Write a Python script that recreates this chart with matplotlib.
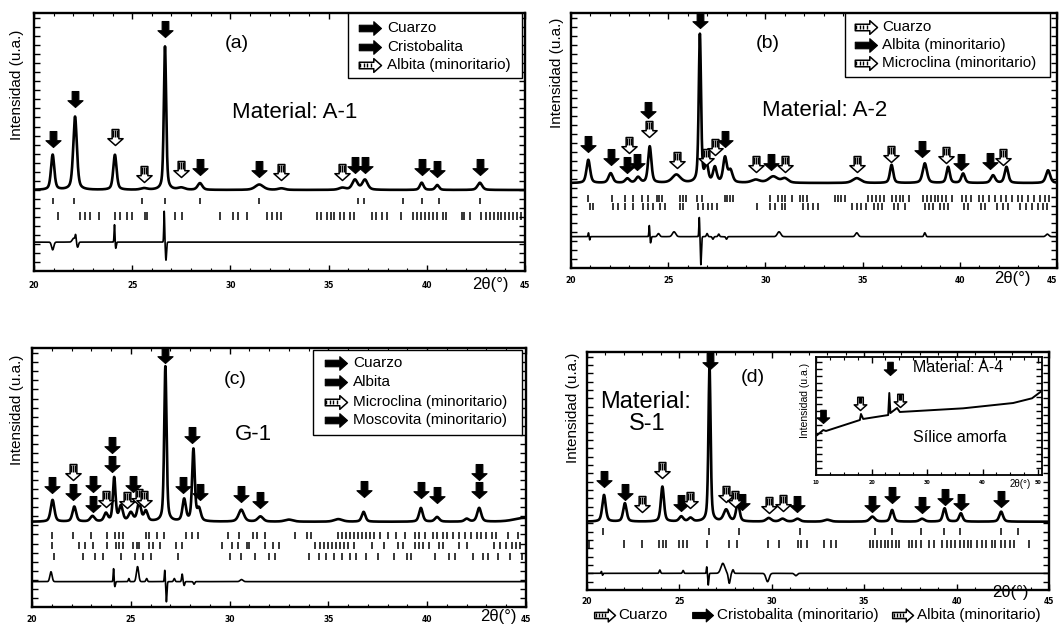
import numpy as np
import matplotlib
matplotlib.use("Agg")
import matplotlib.pyplot as plt
from matplotlib.path import Path
from matplotlib.patches import Rectangle

plt.rcParams['font.family'] = ['Liberation Sans', 'DejaVu Sans']

# ------------------------------------------------------------------ data
two_theta_ticks = [20, 25, 30, 35, 40, 45]

# (a) Material A-1
a_base = 31.4
a_peak_pos = [20.95, 22.09, 24.12, 25.60, 26.67, 27.50, 28.45, 31.47, 32.60, 35.70, 36.34, 36.85, 39.74, 40.53, 42.70]
a_peak_h = [13.6, 28.4, 13.6, 0.6, 55.6, 0.8, 2.6, 2.1, 0.6, 0.8, 3.9, 3.9, 2.8, 1.9, 2.8]
a_peak_w = [0.10, 0.11, 0.10, 0.20, 0.07, 0.20, 0.14, 0.25, 0.20, 0.20, 0.16, 0.16, 0.11, 0.11, 0.14]
a_arrow_solid_x = [20.95, 22.09, 26.67, 28.45, 31.47, 36.34, 36.85, 39.74, 40.53, 42.70]
a_arrow_solid_y = [48.2, 63.7, 90.8, 37.2, 36.6, 37.9, 37.9, 37.2, 36.6, 37.2]
a_arrow_hatch_x = [24.12, 25.60, 27.50, 32.60, 35.70]
a_arrow_hatch_y = [48.8, 34.6, 36.6, 35.3, 35.3]
a_diff_base = 11.2
a_diff_pos = [20.95, 22.02, 22.12, 22.22, 24.10, 24.16, 26.63, 26.72]
a_diff_amp = [-3.0, 1.5, 2.5, -2.0, 7.0, -2.5, 12.0, -7.0]
a_diff_w = [0.08, 0.10, 0.04, 0.06, 0.03, 0.04, 0.03, 0.04]
a_ticks_row1 = [20.95, 22.04, 25.50, 26.69, 28.47, 31.44, 36.50, 36.80, 38.80, 39.74, 40.60, 42.70]
a_ticks_row2 = [21.24, 22.33, 22.60, 22.86, 23.30, 24.13, 24.38, 24.72, 24.97, 25.65, 25.73, 26.60,
                27.20, 27.52, 29.47, 30.15, 30.40, 30.82, 31.84, 32.10, 32.35, 32.60, 34.40, 34.60,
                34.90, 35.10, 35.30, 35.60, 35.80, 36.10, 36.30, 37.20, 37.40, 37.70, 37.95, 38.70,
                39.30, 39.50, 39.70, 39.90, 40.10, 40.30, 40.50, 40.80, 41.00, 41.80, 41.90, 42.20,
                42.75, 43.00, 43.20, 43.40, 43.60, 43.80, 44.00, 44.20, 44.40, 44.60, 44.80]
a_legend_names = ["Cuarzo", "Cristobalita", "Albita (minoritario)"]
a_legend_hatched = [False, False, True]

# (b) Material A-2
b_base = 33.3
b_peak_pos = [20.89, 22.04, 22.90, 23.45, 24.05, 25.42, 26.63, 26.97, 27.40, 27.92, 28.20, 29.50,
              30.40, 31.00, 34.70, 36.49, 38.20, 39.40, 40.17, 41.71, 42.40, 44.54]
b_peak_h = [9.1, 3.8, 1.7, 2.2, 14.3, 3.2, 58.1, 7.0, 5.9, 9.7, 4.7, 1.2, 2.5, 1.7, 1.9, 7.1, 7.7,
            6.3, 3.7, 3.0, 6.3, 5.0]
b_peak_w = [0.11, 0.13, 0.13, 0.13, 0.10, 0.25, 0.07, 0.10, 0.11, 0.11, 0.13, 0.25, 0.28, 0.20,
            0.25, 0.10, 0.13, 0.10, 0.11, 0.13, 0.11, 0.13]
b_arrow_solid_x = [20.89, 22.04, 22.86, 23.40, 23.98, 26.63, 27.92, 30.30, 38.06, 40.08, 41.54]
b_arrow_solid_y = [45.6, 40.4, 37.1, 38.4, 58.7, 94.0, 47.6, 38.4, 43.6, 38.3, 39.0]
b_arrow_hatch_x = [22.99, 24.00, 25.46, 26.97, 27.43, 29.53, 31.02, 34.70, 36.45, 39.28, 42.22]
b_arrow_hatch_y = [45.0, 51.5, 39.1, 40.4, 44.3, 37.8, 37.8, 37.8, 41.7, 41.0, 40.4]
b_diff_base = 12.3
b_diff_pos = [20.90, 20.96, 24.03, 24.09, 24.50, 25.30, 26.60, 26.68, 27.00, 27.30, 27.60, 28.00,
              30.70, 34.70, 38.20, 44.50]
b_diff_amp = [1.5, -1.3, 4.6, -2.5, 1.2, 1.9, 7.7, -11.0, 1.2, -1.0, 1.0, -1.0, 1.9, 1.5, 1.5, 1.0]
b_diff_w = [0.03, 0.03, 0.03, 0.04, 0.08, 0.12, 0.03, 0.04, 0.05, 0.05, 0.05, 0.05, 0.12, 0.10,
            0.06, 0.10]
b_ticks_row1 = [20.89, 22.09, 22.77, 23.20, 23.63, 23.98, 24.40, 24.54, 24.66, 25.60, 25.77, 25.94,
                26.46, 26.72, 27.92, 28.00, 28.17, 28.35, 30.23, 30.66, 30.83, 31.00, 31.35, 31.78,
                31.95, 32.12, 33.57, 33.74, 33.91, 34.08, 35.30, 35.50, 35.70, 35.90, 36.10, 36.50,
                36.70, 36.90, 37.10, 37.40, 38.10, 38.30, 38.50, 38.70, 38.90, 39.10, 39.30, 39.60,
                40.10, 40.30, 40.60, 41.00, 41.20, 41.50, 41.80, 42.10, 42.40, 42.70, 43.00, 43.20,
                43.50, 43.80, 44.10, 44.40, 44.60]
b_ticks_row2 = [20.98, 21.15, 22.17, 22.43, 22.77, 23.20, 23.72, 23.98, 24.24, 24.58, 24.84, 25.60,
                25.77, 26.55, 26.80, 27.06, 27.23, 27.49, 29.55, 30.23, 30.49, 30.83, 31.00, 31.95,
                32.20, 32.46, 32.72, 34.43, 34.69, 34.94, 35.20, 35.60, 35.80, 36.00, 36.60, 36.80,
                37.20, 38.20, 38.40, 38.60, 39.00, 39.20, 39.40, 40.20, 40.40, 41.10, 41.30, 41.90,
                42.20, 42.50, 43.10, 43.40, 43.70, 44.00, 44.30, 44.50]
b_legend_names = ["Cuarzo", "Albita (minoritario)", "Microclina (minoritario)"]
b_legend_hatched = [True, False, True]

# (c) G-1
c_base = 32.9
c_peak_pos = [21.04, 22.14, 23.06, 23.74, 24.16, 24.50, 25.00, 25.42, 25.76, 26.75, 27.70, 28.17,
              28.45, 30.59, 31.56, 33.00, 35.50, 36.78, 39.68, 40.50, 42.00, 42.63, 44.90]
c_peak_h = [8.4, 5.8, 2.1, 3.1, 16.8, 5.8, 3.3, 7.1, 3.9, 59.9, 8.4, 27.7, 4.6, 4.6, 2.0, 0.8, 1.0,
            3.8, 5.3, 1.8, 1.1, 5.3, 1.5]
c_peak_w = [0.11, 0.11, 0.13, 0.11, 0.08, 0.11, 0.13, 0.11, 0.11, 0.07, 0.10, 0.08, 0.11, 0.16,
            0.16, 0.25, 0.25, 0.11, 0.11, 0.13, 0.13, 0.12, 0.60]
c_arrow_solid_x = [21.00, 22.10, 23.10, 23.10, 24.07, 24.07, 25.13, 26.75, 27.66, 28.12, 28.50,
                   30.59, 31.53, 36.78, 39.68, 40.50, 42.63, 42.63]
c_arrow_solid_y = [43.9, 41.3, 44.5, 36.8, 59.3, 52.2, 44.5, 94.1, 43.9, 63.2, 41.3, 40.7, 38.1,
                   42.5, 42.0, 40.0, 49.0, 42.0]
c_arrow_hatch_x = [22.10, 23.74, 24.83, 25.42, 25.67]
c_arrow_hatch_y = [49.0, 38.7, 38.1, 39.4, 38.7]
c_diff_base = 9.8
c_diff_pos = [20.96, 24.13, 24.19, 24.90, 25.34, 25.80, 26.72, 26.80, 27.20, 27.60, 27.70, 28.20, 30.60]
c_diff_amp = [3.8, 5.2, -2.0, 1.2, 5.8, 1.2, 4.5, -7.8, 1.2, 2.9, -1.5, -1.0, 0.8]
c_diff_w = [0.08, 0.03, 0.04, 0.04, 0.08, 0.05, 0.03, 0.04, 0.05, 0.04, 0.04, 0.05, 0.10]
c_ticks_row1 = [21.00, 22.10, 23.00, 23.80, 24.20, 24.40, 24.60, 25.77, 25.94, 26.35, 26.70, 27.80,
                28.10, 28.40, 29.90, 30.50, 31.20, 31.40, 31.80, 33.30, 33.90, 34.10, 35.50, 35.70,
                35.90, 36.10, 36.30, 36.50, 36.70, 36.90, 37.10, 37.30, 37.60, 38.00, 38.40, 38.90,
                39.40, 39.60, 39.90, 40.30, 40.50, 40.80, 41.00, 41.30, 41.60, 41.90, 42.20, 42.50,
                42.70, 43.00, 43.30, 43.50, 44.10, 44.60]
c_ticks_row2 = [21.00, 22.40, 22.70, 23.10, 23.80, 24.25, 24.40, 24.60, 25.10, 25.30, 25.40, 25.90,
                26.10, 26.50, 27.30, 27.60, 29.60, 30.10, 30.40, 30.90, 31.00, 31.80, 32.20, 32.50,
                34.30, 34.60, 34.80, 35.00, 35.20, 35.40, 35.60, 35.80, 36.00, 36.30, 37.20, 37.80,
                38.50, 38.80, 39.40, 39.60, 39.80, 40.10, 40.60, 40.80, 41.60, 42.00, 43.40, 43.70,
                44.00, 44.30, 44.50, 44.70]
c_ticks_row3 = [21.10, 22.60, 23.20, 23.60, 24.50, 25.20, 25.60, 26.00, 27.40, 30.00, 30.60, 31.30,
                32.00, 32.30, 34.00, 34.50, 34.90, 35.30, 35.70, 36.10, 36.40, 36.90, 37.50, 38.30,
                39.00, 39.20, 40.40, 41.10, 41.40, 42.30, 42.80, 43.10, 43.60, 44.20, 44.80]
c_legend_names = ["Cuarzo", "Albita", "Microclina (minoritario)", "Moscovita (minoritario)"]
c_legend_hatched = [False, False, True, False]

# (d) Material S-1
d_base = 28.7
d_peak_pos = [20.92, 22.05, 24.08, 25.10, 25.60, 26.63, 27.53, 28.16, 29.83, 30.58, 31.39, 33.00,
              35.44, 36.51, 38.13, 39.35, 40.23, 42.41]
d_peak_h = [11.2, 7.7, 14.7, 2.1, 1.5, 65.1, 4.9, 7.7, 1.5, 1.2, 1.2, 0.8, 2.1, 4.9, 1.2, 5.6, 3.5, 4.2]
d_peak_w = [0.11, 0.11, 0.10, 0.13, 0.13, 0.07, 0.16, 0.11, 0.16, 0.16, 0.16, 0.20, 0.16, 0.11,
            0.16, 0.11, 0.11, 0.12]
d_arrow_solid_x = [20.92, 22.05, 25.10, 26.63, 28.37, 31.39, 35.44, 36.51, 38.13, 39.35, 40.23, 42.41]
d_arrow_solid_y = [43.4, 37.8, 33.0, 93.0, 33.6, 32.9, 32.9, 36.4, 32.2, 35.7, 33.6, 35.0]
d_arrow_hatch_x = [22.98, 24.08, 25.60, 27.53, 28.00, 29.83, 30.58]
d_arrow_hatch_y = [32.9, 47.0, 34.3, 37.1, 35.0, 32.2, 33.0]
d_diff_base = 7.0
d_diff_pos = [20.78, 20.84, 23.94, 25.20, 26.48, 26.56, 27.35, 27.70, 27.90, 29.77, 31.30]
d_diff_amp = [0.8, -0.8, 1.4, 1.2, 2.8, -4.9, 4.2, -4.2, 1.5, -3.5, -1.0]
d_diff_w = [0.03, 0.03, 0.05, 0.05, 0.03, 0.04, 0.15, 0.07, 0.06, 0.12, 0.10]
d_ticks_row1 = [20.85, 26.60, 28.20, 31.50, 35.60, 36.50, 38.10, 39.30, 40.20, 42.40, 43.30]
d_ticks_row2 = [20.10, 22.00, 22.96, 23.90, 24.10, 24.30, 25.00, 25.20, 25.40, 26.50, 27.70, 28.10,
                29.80, 30.40, 31.40, 31.60, 31.90, 32.80, 33.20, 33.50, 35.30, 35.50, 35.70, 35.90,
                36.10, 36.30, 36.50, 36.70, 36.90, 37.40, 37.60, 37.80, 38.10, 38.50, 38.80, 39.20,
                39.50, 39.70, 39.90, 40.20, 40.40, 40.60, 40.80, 41.10, 41.40, 41.60, 41.90, 42.10,
                42.40, 42.60, 42.90, 43.10, 43.90]
d_legend_names = ["Cuarzo", "Cristobalita (minoritario)", "Albita (minoritario)"]
d_legend_hatched = [True, False, True]

# inset of (d): Material A-4, silice amorfa
inset_x = [10.23, 11.30, 11.80, 17.90, 18.10, 18.50, 23.00, 23.20, 23.40, 24.60, 25.10, 36.50,
           45.50, 48.90, 50.40]
inset_y = [33.9, 38.1, 37.3, 46.6, 51.7, 47.5, 50.8, 69.5, 52.5, 56.8, 53.4, 56.5, 61.0, 65.0, 70.3]
inset_ticks = [10, 20, 30, 40, 50]
inset_arrow_solid_x = [11.3, 23.3]
inset_arrow_solid_y = [43.8, 84.7]
inset_arrow_hatch_x = [18.0, 25.1]
inset_arrow_hatch_y = [55.0, 57.9]

# ------------------------------------------------------------------ helpers
W, H = 1060, 625
fig = plt.figure(figsize=(W / 100, H / 100), dpi=100)

MV, LT, CL = Path.MOVETO, Path.LINETO, Path.CLOSEPOLY
ARROW_DN = Path([(0, 0), (0.95, 0.85), (0.42, 0.85), (0.42, 2), (-0.42, 2), (-0.42, 0.85),
                 (-0.95, 0.85), (0, 0)], [MV] + [LT] * 6 + [CL])
STRIPES_DN = Path([(-0.2, 1.0), (-0.2, 1.9), (0.0, 1.0), (0.0, 1.9), (0.2, 1.0), (0.2, 1.9), (0, 2)],
                  [MV, LT, MV, LT, MV, LT, MV])
ARROW_R = Path([(0, 0), (-0.9, 0.8), (-0.9, 0.38), (-2.6, 0.38), (-2.6, -0.38), (-0.9, -0.38),
                (-0.9, -0.8), (0, 0)], [MV] + [LT] * 6 + [CL])
STRIPES_R = Path([(-1.2, -0.28), (-1.2, 0.28), (-1.6, -0.28), (-1.6, 0.28), (-2.0, -0.28),
                  (-2.0, 0.28), (-2.4, -0.28), (-2.4, 0.28), (-2.6, 0)],
                 [MV, LT, MV, LT, MV, LT, MV, LT, MV])


def profile(x, base, pos, h, w):
    y = np.full_like(x, base, dtype=float)
    for p, hh, ww in zip(pos, h, w):
        t = (x - p) / ww
        y += hh * (0.5 / (1 + t ** 2) + 0.5 * np.exp(-np.log(2) * t ** 2))
    return y


def gauss_sum(x, base, pos, amp, w):
    y = np.full_like(x, base, dtype=float)
    for p, a, ww in zip(pos, amp, w):
        y += a * np.exp(-((x - p) / ww) ** 2)
    return y


def arrows(ax, xs, ys, hatched, ms=23, path=ARROW_DN, stripes=STRIPES_DN):
    if hatched:
        ax.plot(xs, ys, ls='none', marker=path, ms=ms, mfc='white', mec='black', mew=1.1,
                clip_on=False, zorder=6)
        ax.plot(xs, ys, ls='none', marker=stripes, ms=ms, mfc='none', mec='black', mew=1.0,
                clip_on=False, zorder=7)
    else:
        ax.plot(xs, ys, ls='none', marker=path, ms=ms, mfc='black', mec='black', mew=0.8,
                clip_on=False, zorder=6)


def add_ax(l, t, r, b):
    return fig.add_axes([l / W, 1 - b / H, (r - l) / W, (b - t) / H])


def style(ax, xlim=(20, 45), xt=two_theta_ticks, minor_step=1.0, ystep=3.5, lw=1.7):
    ax.set_xlim(*xlim)
    ax.set_ylim(0, 100)
    for s in ax.spines.values():
        s.set_linewidth(lw)
    ax.set_xticks(xt)
    ax.set_xticks(np.arange(xlim[0], xlim[1] + 0.01, minor_step), minor=True)
    ax.set_yticks(np.arange(ystep, 100, ystep))
    ax.tick_params(which='both', direction='in', top=True, right=True,
                   labelleft=False, labelbottom=False)
    ax.tick_params(which='major', length=4, width=1.0)
    ax.tick_params(which='minor', length=2, width=0.8)


X = np.linspace(20, 45, 5001)

panels = [
    dict(box=(34, 13, 525, 271), base=a_base, pos=a_peak_pos, h=a_peak_h, w=a_peak_w,
         sx=a_arrow_solid_x, sy=a_arrow_solid_y, hx=a_arrow_hatch_x, hy=a_arrow_hatch_y,
         db=a_diff_base, dp=a_diff_pos, da=a_diff_amp, dw=a_diff_w,
         rows=[(a_ticks_row1, 25.9, 28.3), (a_ticks_row2, 19.8, 22.9)], labely=285),
    dict(box=(571, 13, 1057, 268), base=b_base, pos=b_peak_pos, h=b_peak_h, w=b_peak_w,
         sx=b_arrow_solid_x, sy=b_arrow_solid_y, hx=b_arrow_hatch_x, hy=b_arrow_hatch_y,
         db=b_diff_base, dp=b_diff_pos, da=b_diff_amp, dw=b_diff_w,
         rows=[(b_ticks_row1, 26.0, 28.6), (b_ticks_row2, 22.7, 25.6)], labely=280),
    dict(box=(32, 348, 526, 607), base=c_base, pos=c_peak_pos, h=c_peak_h, w=c_peak_w,
         sx=c_arrow_solid_x, sy=c_arrow_solid_y, hx=c_arrow_hatch_x, hy=c_arrow_hatch_y,
         db=c_diff_base, dp=c_diff_pos, da=c_diff_amp, dw=c_diff_w,
         rows=[(c_ticks_row1, 26.2, 28.8), (c_ticks_row2, 22.5, 25.2), (c_ticks_row3, 18.3, 21.0)],
         labely=620),
    dict(box=(587, 352, 1049, 590), base=d_base, pos=d_peak_pos, h=d_peak_h, w=d_peak_w,
         sx=d_arrow_solid_x, sy=d_arrow_solid_y, hx=d_arrow_hatch_x, hy=d_arrow_hatch_y,
         db=d_diff_base, dp=d_diff_pos, da=d_diff_amp, dw=d_diff_w,
         rows=[(d_ticks_row1, 23.3, 26.0), (d_ticks_row2, 17.8, 20.8)], labely=602),
]

for P in panels:
    l, t, r, b = P['box']
    ax = add_ax(l, t, r, b)
    style(ax)
    ax.plot(X, profile(X, P['base'], P['pos'], P['h'], P['w']), color='black', lw=1.9, zorder=3)
    ax.plot(X, gauss_sum(X, P['db'], P['dp'], P['da'], P['dw']), color='black', lw=1.2, zorder=3)
    for xs, lo, hi in P['rows']:
        ax.vlines(xs, lo, hi, color='black', lw=1.1, zorder=3)
    arrows(ax, P['sx'], P['sy'], False)
    arrows(ax, P['hx'], P['hy'], True)
    # tick labels (tiny, bold)
    yfrac = -(P['labely'] - b) / (b - t)
    for v in two_theta_ticks:
        px = l + (v - 20) / 25 * (r - l)
        ax.text(v, yfrac, str(v), transform=ax.get_xaxis_transform(),
                ha='right' if px > W - 8 else 'center', va='center',
                fontsize=5.5, fontweight='bold', family='DejaVu Sans')

# inset in (d)
ins = add_ax(816, 357, 1042, 475)
style(ins, xlim=(10, 50.7), xt=inset_ticks, minor_step=2.5, ystep=6, lw=1.3)
ins.set_facecolor('white')
ins.set_zorder(5)
ins.plot(inset_x, inset_y, color='black', lw=1.4, zorder=3)
arrows(ins, inset_arrow_solid_x, inset_arrow_solid_y, False, ms=19)
arrows(ins, inset_arrow_hatch_x, inset_arrow_hatch_y, True, ms=19)
for v in inset_ticks:
    ins.text(v, -0.06, str(v), transform=ins.get_xaxis_transform(), ha='center', va='center',
             fontsize=3.5, fontweight='bold', family='DejaVu Sans')

# ------------------------------------------------------------------ overlay (pixel coords)
ov = fig.add_axes([0, 0, 1, 1])
ov.set_xlim(0, W)
ov.set_ylim(H, 0)
ov.axis('off')
ov.patch.set_alpha(0)
ov.set_zorder(10)


def legend_box(x0, y0, x1, y1, names, hatched, ys, tip_x, text_x, fs=11):
    ov.add_patch(Rectangle((x0, y0), x1 - x0, y1 - y0, facecolor='white', edgecolor='black',
                           lw=1.0, zorder=1))
    for name, hz, yy in zip(names, hatched, ys):
        arrows(ov, [tip_x], [yy], hz, ms=32, path=ARROW_R, stripes=STRIPES_R)
        ov.text(text_x, yy, name, ha='left', va='center', fontsize=fs, zorder=8)


legend_box(348, 13, 522, 78, a_legend_names, a_legend_hatched, [28, 47, 65], 381, 387)
legend_box(845, 13, 1050, 77, b_legend_names, b_legend_hatched, [27, 45, 63], 877, 882)
legend_box(313, 350, 522, 435, c_legend_names, c_legend_hatched, [363, 382, 402, 420], 347, 353)

# bottom legend of (d)
for name, hz, tip, tx in zip(d_legend_names, d_legend_hatched, [615, 713, 913], [618, 717, 917]):
    arrows(ov, [tip], [615], hz, ms=30, path=ARROW_R, stripes=STRIPES_R)
    ov.text(tx, 615, name, ha='left', va='center', fontsize=11)

# y labels
for (x, y) in [(17, 85), (557, 73), (17, 410), (573, 408)]:
    ov.text(x, y, "Intensidad (u.a.)", rotation=90, ha='center', va='center', fontsize=11)
ov.text(805, 400, "Intensidad (u.a.)", rotation=90, ha='center', va='center', fontsize=7.5)

# 2theta labels
for (x, y) in [(490, 284), (1012, 279), (498, 617), (1010, 592)]:
    ov.text(x, y, "2θ(°)", ha='center', va='center', fontsize=12)
ov.text(1020, 484, "2θ(°)", ha='center', va='center', fontsize=7)

# panel texts
ov.text(237, 43, "(a)", ha='center', va='center', fontsize=14)
ov.text(295, 113, "Material: A-1", ha='center', va='center', fontsize=16)
ov.text(768, 43, "(b)", ha='center', va='center', fontsize=14)
ov.text(825, 110, "Material: A-2", ha='center', va='center', fontsize=16)
ov.text(235, 380, "(c)", ha='center', va='center', fontsize=14)
ov.text(253, 435, "G-1", ha='center', va='center', fontsize=16)
ov.text(753, 378, "(d)", ha='center', va='center', fontsize=14)
ov.text(646, 402, "Material:", ha='center', va='center', fontsize=17)
ov.text(647, 424, "S-1", ha='center', va='center', fontsize=17)
ov.text(958, 368, "Material: A-4", ha='center', va='center', fontsize=11.5, zorder=8)
ov.text(960, 437, "Sílice amorfa", ha='center', va='center', fontsize=11.5, zorder=8)

fig.savefig("out.png", dpi=100, facecolor='white')
